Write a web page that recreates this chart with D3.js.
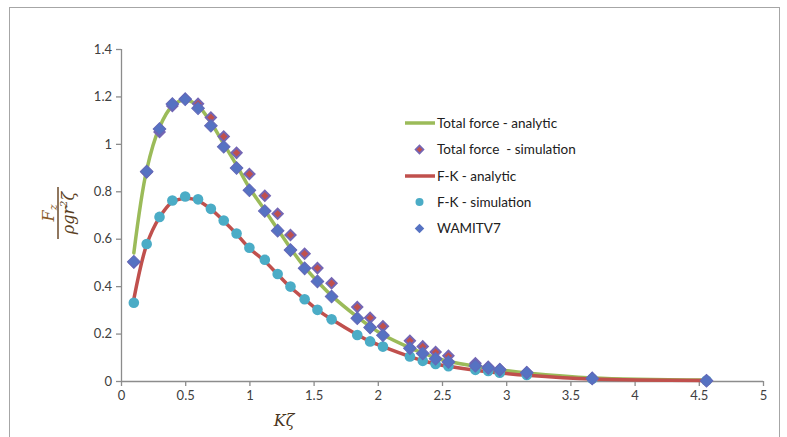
<!DOCTYPE html>
<html><head><meta charset="utf-8">
<script src="https://cdn.jsdelivr.net/npm/d3@7"></script>
<style>
html,body{margin:0;padding:0;background:#fff;}
svg{display:block;font-family:Lato,"Open Sans",sans-serif;}
</style></head>
<body><svg id="c" width="787" height="437"></svg>
<script>
// ---- data ----
const kz = [0.1,0.2,0.3,0.4,0.5,0.6,0.7,0.8,0.9,1.0,1.12,1.22,1.32,1.43,1.53,1.64,1.84,1.94,2.04,2.25,2.35,2.45,2.55,2.76,2.86,2.95,3.16,3.67,4.56];
const totalAnalytic = [0.54,0.89,1.07,1.16,1.185,1.16,1.09,1.0,0.91,0.815,0.72,0.64,0.56,0.48,0.42,0.36,0.27,0.23,0.195,0.14,0.118,0.098,0.083,0.062,0.054,0.047,0.034,0.013,0.004];
const totalSim = [0.50,0.88,1.05,1.16,1.19,1.169,1.111,1.031,0.962,0.873,0.781,0.705,0.616,0.537,0.476,0.412,0.312,0.267,0.231,0.170,0.146,0.122,0.106,0.075,0.060,0.050,0.037,0.012,0.002];
const fkAnalytic = [0.345,0.575,0.69,0.755,0.77,0.76,0.725,0.675,0.62,0.56,0.505,0.45,0.395,0.345,0.30,0.26,0.195,0.167,0.145,0.103,0.086,0.072,0.062,0.045,0.039,0.034,0.024,0.008,0.002];
const fkSim = [0.330,0.578,0.692,0.761,0.778,0.766,0.726,0.677,0.622,0.562,0.511,0.451,0.398,0.345,0.300,0.260,0.194,0.167,0.145,0.103,0.085,0.072,0.062,0.047,0.042,0.035,0.025,0.009,0.002];
const wamit = [0.503,0.883,1.063,1.168,1.188,1.150,1.076,0.988,0.898,0.804,0.717,0.634,0.552,0.475,0.420,0.356,0.265,0.226,0.193,0.138,0.116,0.094,0.080,0.064,0.055,0.047,0.035,0.011,0.001];
const xTicks = [0,0.5,1,1.5,2,2.5,3,3.5,4,4.5,5];
const yTicks = [0,0.2,0.4,0.6,0.8,1,1.2,1.4];
const legendLabels = ["Total force - analytic","Total force  - simulation","F-K - analytic","F-K - simulation","WAMITV7"];

// ---- drawing ----
const svg = d3.select("#c");
const x = d3.scaleLinear().domain([0,5]).range([121,763]);
const y = d3.scaleLinear().domain([0,1.4]).range([381,49]);
const C = {green:"#9BBB59", red:"#C0504D", aqua:"#4BACC6", blue:"#5672C2", purple:"#7466B4", axis:"#8C8C8C", text:"#404040"};

// outer chart border
svg.append("rect").attr("x",9.5).attr("y",7.5).attr("width",770).attr("height",440)
  .attr("fill","none").attr("stroke","#A6A6A6").attr("stroke-width",1);

// axes
const xAxis = d3.axisBottom(x).tickValues(xTicks).tickSize(5).tickFormat(d3.format("~g"));
const yAxis = d3.axisLeft(y).tickValues(yTicks).tickSize(5).tickFormat(d3.format("~g"));
const gx = svg.append("g").attr("transform",`translate(0,${y(0)})`).call(xAxis);
const gy = svg.append("g").attr("transform",`translate(${x(0)},0)`).call(yAxis);
[gx,gy].forEach(g=>{
  g.select(".domain").attr("stroke",C.axis).attr("stroke-width",1.3);
  g.selectAll(".tick line").attr("stroke",C.axis).attr("stroke-width",1.3);
  g.selectAll(".tick text").attr("fill",C.text).attr("font-size",13).attr("font-family","Lato,'Open Sans',sans-serif");
});
gx.select(".domain").attr("d",`M${x(0)},0.5H${x(5)}`);
gy.select(".domain").attr("d",`M0.5,${y(1.4)}V${y(0)}`);
gx.selectAll(".tick text").attr("dy","0.95em").attr("y",7);
gy.selectAll(".tick text").attr("x",-9);

// lines
const pts = arr => kz.map((k,i)=>[k,arr[i]]);
const line = d3.line().x(d=>x(d[0])).y(d=>y(d[1])).curve(d3.curveCatmullRom.alpha(0.5));
const diamond = d3.symbol().type(d3.symbolSquare);

svg.append("path").datum(pts(totalAnalytic)).attr("d",line)
  .attr("fill","none").attr("stroke",C.green).attr("stroke-width",3.5).attr("stroke-linecap","round");

svg.append("g").selectAll("path").data(pts(totalSim)).join("path")
  .attr("d",diamond.size(52)).attr("transform",d=>`translate(${x(d[0])},${y(d[1])}) rotate(45)`)
  .attr("fill",C.red).attr("stroke",C.purple).attr("stroke-width",2);

svg.append("path").datum(pts(fkAnalytic)).attr("d",line)
  .attr("fill","none").attr("stroke",C.red).attr("stroke-width",3.5).attr("stroke-linecap","round");

svg.append("g").selectAll("circle").data(pts(fkSim)).join("circle")
  .attr("cx",d=>x(d[0])).attr("cy",d=>y(d[1])).attr("r",5.3)
  .attr("fill",C.aqua);

svg.append("g").selectAll("path").data(pts(wamit)).join("path")
  .attr("d",diamond.size(80)).attr("transform",d=>`translate(${x(d[0])},${y(d[1])}) rotate(45)`)
  .attr("fill",C.blue).attr("stroke","#6468B8").attr("stroke-width",1);

// legend
const lg = svg.append("g");
const ly = [123,149.5,176,202,228.5];
legendLabels.forEach((t,i)=>{
  if(i===0||i===2){
    lg.append("line").attr("x1",405).attr("x2",435).attr("y1",ly[i]).attr("y2",ly[i])
      .attr("stroke",i===0?C.green:C.red).attr("stroke-width",3.5);
  } else if(i===1){
    lg.append("path").attr("d",diamond.size(32)).attr("transform",`translate(419.5,${ly[i]}) rotate(45)`)
      .attr("fill",C.red).attr("stroke",C.purple).attr("stroke-width",1.6);
  } else if(i===3){
    lg.append("circle").attr("cx",419.5).attr("cy",ly[i]).attr("r",4).attr("fill",C.aqua);
  } else {
    lg.append("path").attr("d",diamond.size(45)).attr("transform",`translate(419.5,${ly[i]}) rotate(45)`)
      .attr("fill",C.blue);
  }
  lg.append("text").attr("x",437).attr("y",ly[i]).attr("dy","0.35em")
    .attr("font-size",13.5).attr("fill","#202020").style("white-space","pre").text(t);
});

// axis titles
const yl = svg.append("g").attr("transform","translate(58,213) rotate(-90)");
yl.append("line").attr("x1",-26).attr("x2",26).attr("y1",0).attr("y2",0).attr("stroke","#6b4a2a").attr("stroke-width",1.5);
const num = yl.append("text").attr("x",0).attr("y",-4).attr("text-anchor","middle")
  .attr("font-family","'DejaVu Serif',serif").attr("font-style","italic").attr("font-size",16).attr("fill","#8a5a28");
num.append("tspan").text("F");
num.append("tspan").attr("font-size",11).attr("dy",3).text("z");
const den = yl.append("text").attr("x",0).attr("y",16).attr("text-anchor","middle")
  .attr("font-family","'DejaVu Serif',serif").attr("font-style","italic").attr("font-size",16).attr("fill","#5a3e22");
den.append("tspan").text("ρgr");
den.append("tspan").attr("font-size",10).attr("dy",-7).text("2");
den.append("tspan").attr("dy",7).text("ζ");

svg.append("text").attr("x",284).attr("y",426).attr("text-anchor","middle")
  .attr("font-family","'DejaVu Serif',serif").attr("font-style","italic").attr("font-size",16)
  .attr("fill","#4a3520").text("Kζ");
</script>
</body></html>
